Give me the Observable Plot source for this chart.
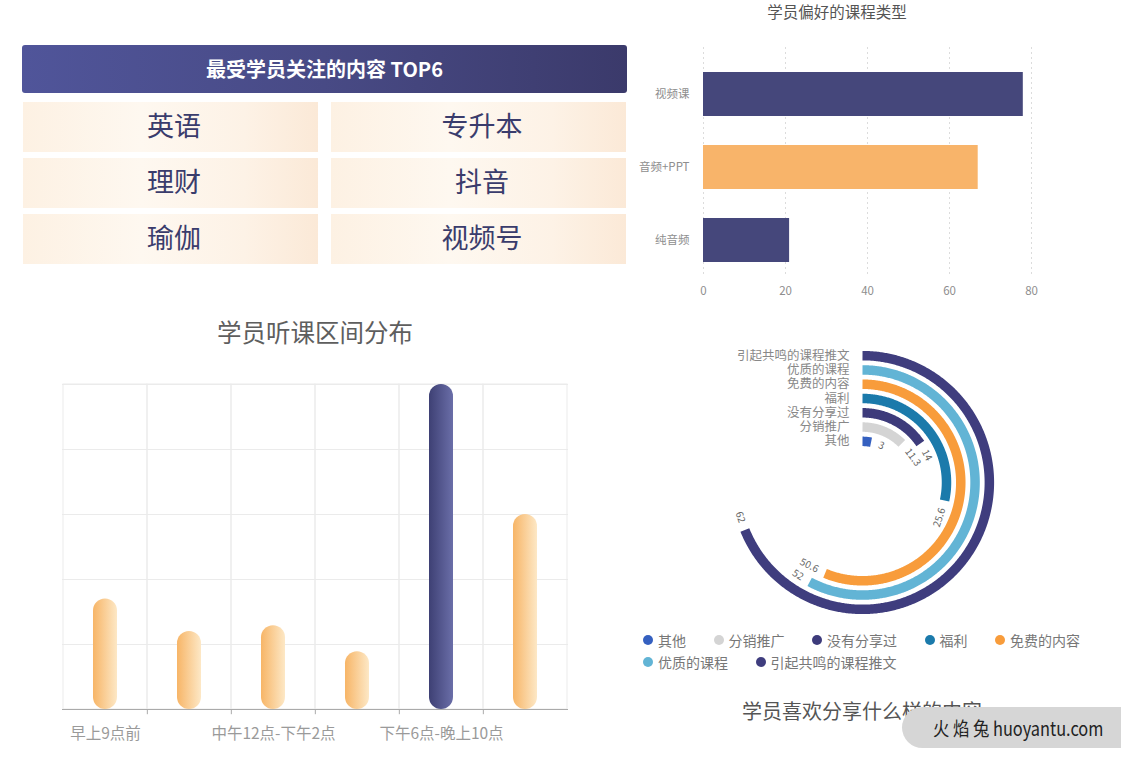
<!DOCTYPE html>
<html><head><meta charset="utf-8">
<script src="https://cdn.jsdelivr.net/npm/d3@7"></script>
<script src="https://cdn.jsdelivr.net/npm/@observablehq/plot@0.6"></script>
<style>
body{margin:0;background:#fff;font-family:"Noto Sans CJK SC","Noto Sans",sans-serif;}
#page{position:relative;width:1121px;height:763px;overflow:hidden;background:#fff;}
.abs{position:absolute;}
.title{position:absolute;white-space:nowrap;transform:translate(-50%,-50%);}
#legend{position:absolute;left:643px;top:629px;width:475px;display:flex;flex-wrap:wrap;font-size:14px;color:#777;line-height:22px;}
#legend .item{display:flex;align-items:center;margin-right:27.5px;}
#legend .dot{width:10px;height:10px;border-radius:50%;margin-right:5px;}
</style></head><body><div id="page">
<div id="hdr" class="abs" style="left:22px;top:45px;width:605px;height:48px;border-radius:3px;background:linear-gradient(to right,#50559a,#484a85 50%,#3b3a6b);color:#fff;font-weight:bold;font-size:20px;line-height:48px;text-align:center;"></div>
<div id="p1" class="abs" style="left:22px;top:101px;"></div>
<div id="t2" class="title" style="left:837px;top:11px;font-size:15.5px;color:#555;"></div>
<div id="p2" class="abs" style="left:630px;top:25px;"></div>
<div id="t3" class="title" style="left:315px;top:331px;font-size:24.5px;color:#5e5e5e;"></div>
<div id="p3" class="abs" style="left:40px;top:360px;"></div>
<div id="p4" class="abs" style="left:630px;top:340px;"></div>
<div id="legend"></div>
<div id="t4" class="title" style="left:862px;top:710px;font-size:20px;color:#555;"></div>
<div class="abs" style="left:902px;top:707px;width:240px;height:41px;border-radius:21px;background:#d6d6d6;"></div>
<div class="abs" style="left:933px;top:707px;height:41px;line-height:41px;font-size:19px;color:#222;white-space:nowrap;transform:scaleX(0.86);transform-origin:0 50%;">火 焰 兔 huoyantu.com</div>
</div>
<script>
// ---------- data ----------
const topTitle = "最受学员关注的内容 TOP6";
const topItems = ["英语", "专升本", "理财", "抖音", "瑜伽", "视频号"];
const topCols = ["左", "右"];
const topRows = [1, 2, 3];

const courseTitle = "学员偏好的课程类型";
const courseTypes = ["视频课", "音频+PPT", "纯音频"];
const courseValues = [78, 67, 21];
const courseTicks = [0, 20, 40, 60, 80];

const slotTitle = "学员听课区间分布";
const timeSlots = ["早上9点前", "上午9点-中午12点", "中午12点-下午2点", "下午2点-下午6点", "下午6点-晚上10点", "晚上10点后"];
const slotValues = [17, 12, 12.9, 8.9, 50, 30];
const shownSlotLabels = ["早上9点前", "中午12点-下午2点", "下午6点-晚上10点"];
const slotGrid = [10, 20, 30, 40, 50];

const shareTitle = "学员喜欢分享什么样的内容";
const shareCats = ["其他", "分销推广", "没有分享过", "福利", "免费的内容", "优质的课程", "引起共鸣的课程推文"];
const shareValues = [3, 11.3, 14, 25.6, 50.6, 52, 62];
const shareMax = 90;

// ---------- palette ----------
const navy = "#45477b", orange = "#f8b46a";
const courseColors = [navy, orange, navy];
const shareColors = ["#3560c0", "#d4d4d4", "#3d3b7b", "#1b7aab", "#f89c3b", "#62b4d5", "#3f3d7e"];
const FONT = '"Noto Sans CJK SC","Noto Sans",sans-serif';

function addGradient(svg, id, stops) {
  const s = d3.select(svg);
  let defs = s.select("defs");
  if (defs.empty()) defs = s.insert("defs", ":first-child");
  const g = defs.append("linearGradient").attr("id", id)
    .attr("x1", "0%").attr("y1", "0%").attr("x2", "100%").attr("y2", "0%");
  stops.forEach(([o, c]) => g.append("stop").attr("offset", o).attr("stop-color", c));
}

// ---------- panel 1 : TOP6 ----------
document.getElementById("hdr").textContent = topTitle;
const cellData = topItems.map((item, i) => ({item, col: topCols[i % 2], row: topRows[Math.floor(i / 2)]}));
const p1 = Plot.plot({
  width: 605, height: 165, margin: 0,
  x: {domain: topCols, type: "band", paddingInner: 0.042, paddingOuter: 0, axis: null},
  y: {domain: topRows, type: "band", paddingInner: 0.105, paddingOuter: 0, axis: null},
  style: {fontFamily: FONT, background: "transparent", overflow: "visible"},
  marks: [
    Plot.cell(cellData, {x: "col", y: "row", fill: "url(#cellGrad)"}),
    Plot.text(cellData, {x: "col", y: "row", text: "item", fontSize: 27, dx: 3, fill: "#3a3c6c"})
  ]
});
addGradient(p1, "cellGrad", [["0%", "#fdf1e3"], ["40%", "#fef8f0"], ["75%", "#fdf2e6"], ["100%", "#fbe9d7"]]);
document.getElementById("p1").appendChild(p1);

// ---------- panel 2 : course types ----------
document.getElementById("t2").textContent = courseTitle;
const courseData = courseTypes.map((type, i) => ({type, value: courseValues[i]}));
const p2 = Plot.plot({
  width: 420, height: 280, marginLeft: 73, marginRight: 19, marginTop: 22, marginBottom: 29,
  x: {domain: [0, 80], ticks: courseTicks, tickSize: 0, tickPadding: 10, label: null},
  y: {domain: courseTypes, paddingInner: 0.4, paddingOuter: 0.258, align: 0.633, tickSize: 0, tickPadding: 14, label: null},
  color: {domain: courseTypes, range: courseColors},
  style: {fontFamily: FONT, fontSize: "11.5px", color: "#8e8e8e", background: "transparent"},
  marks: [
    Plot.ruleX(courseTicks, {stroke: "#dcdcdc", strokeDasharray: "2,3"}),
    Plot.barX(courseData, {x: "value", y: "type", fill: "type"})
  ]
});
document.getElementById("p2").appendChild(p2);

// ---------- panel 3 : listening time ----------
document.getElementById("t3").textContent = slotTitle;
const slotData = timeSlots.map((slot, i) => ({slot, value: slotValues[i]}));
const peak = d3.max(slotValues);
const step3 = 506 / timeSlots.length;
const p3 = Plot.plot({
  width: 560, height: 400, marginLeft: 22, marginRight: 32, marginTop: 24, marginBottom: 51,
  x: {domain: timeSlots, padding: 0, tickSize: 0, tickPadding: 18, label: null,
      tickFormat: d => shownSlotLabels.includes(d) ? d : ""},
  y: {domain: [0, 50], axis: null},
  style: {fontFamily: FONT, fontSize: "15.5px", color: "#9a9a9a", background: "transparent", overflow: "visible"},
  marks: [
    Plot.ruleY(slotGrid, {stroke: "#ebebeb"}),
    Plot.barY(timeSlots, {x: d => d, y1: 0, y2: 50, fill: "none", stroke: "#ebebeb"}),
    Plot.ruleX(timeSlots.slice(1), {x: d => d, dx: -step3 / 2, y1: 0, y2: -0.8, stroke: "#aaa"}),
    Plot.ruleY([0], {stroke: "#aaa"}),
    Plot.barY(slotData.filter(d => d.value < peak), {x: "slot", y: "value", fill: "url(#gOrange)", rx: 12, insetLeft: 30, insetRight: 30}),
    Plot.barY(slotData.filter(d => d.value === peak), {x: "slot", y: "value", fill: "url(#gNavy)", rx: 12, insetLeft: 30, insetRight: 30})
  ]
});
addGradient(p3, "gOrange", [["0%", "#f7b567"], ["100%", "#fde8c6"]]);
addGradient(p3, "gNavy", [["0%", "#3e4074"], ["100%", "#6a6ea8"]]);
document.getElementById("p3").appendChild(p3);

// ---------- panel 4 : polar bars ----------
document.getElementById("t4").textContent = shareTitle;
const rBand = d3.scaleBand(shareCats, [34, 134]);
const rOf = c => rBand(c) + rBand.bandwidth() / 2;
const ang = d3.scaleLinear([0, shareMax], [0, 360]);
const rad = a => a * Math.PI / 180;
const arcPts = [];
shareCats.forEach((cat, i) => {
  const r = rOf(cat), end = ang(shareValues[i]);
  for (let a = 0; a < end; a += 0.5) arcPts.push({cat, x: r * Math.sin(rad(a)), y: r * Math.cos(rad(a))});
  arcPts.push({cat, x: r * Math.sin(rad(end)), y: r * Math.cos(rad(end))});
});
const valLabels = shareCats.map((cat, i) => {
  const r = rOf(cat), a = ang(shareValues[i]) + (8 / r) * 180 / Math.PI;
  const flip = a > 90 && a < 270;
  return {cat, text: String(shareValues[i]), x: r * Math.sin(rad(a)), y: r * Math.cos(rad(a)), rot: flip ? a - 180 : a, flip};
});
const p4 = Plot.plot({
  width: 480, height: 285, margin: 0,
  x: {domain: [-232, 248], axis: null},
  y: {domain: [-143, 142], axis: null},
  color: {domain: shareCats, range: shareColors},
  style: {fontFamily: FONT, background: "transparent", overflow: "visible"},
  marks: [
    Plot.line(arcPts, {x: "x", y: "y", z: "cat", stroke: "cat", strokeWidth: 9.5, strokeLinecap: "butt", strokeLinejoin: "round"}),
    Plot.text(shareCats, {x: () => 0, y: d => rOf(d), dx: -13, text: d => d, textAnchor: "end", fontSize: 12.5, fill: "#888"}),
    Plot.text(valLabels.filter(d => !d.flip), {x: "x", y: "y", text: "text", rotate: "rot", textAnchor: "start", fontSize: 10, fill: "#666"}),
    Plot.text(valLabels.filter(d => d.flip), {x: "x", y: "y", text: "text", rotate: "rot", textAnchor: "end", fontSize: 10, fill: "#666"})
  ]
});
document.getElementById("p4").appendChild(p4);

// legend
const lg = document.getElementById("legend");
shareCats.forEach((c, i) => {
  const it = document.createElement("div"); it.className = "item";
  const dot = document.createElement("span"); dot.className = "dot"; dot.style.background = shareColors[i];
  const tx = document.createElement("span"); tx.textContent = c;
  it.appendChild(dot); it.appendChild(tx); lg.appendChild(it);
});
</script>
</body></html>
